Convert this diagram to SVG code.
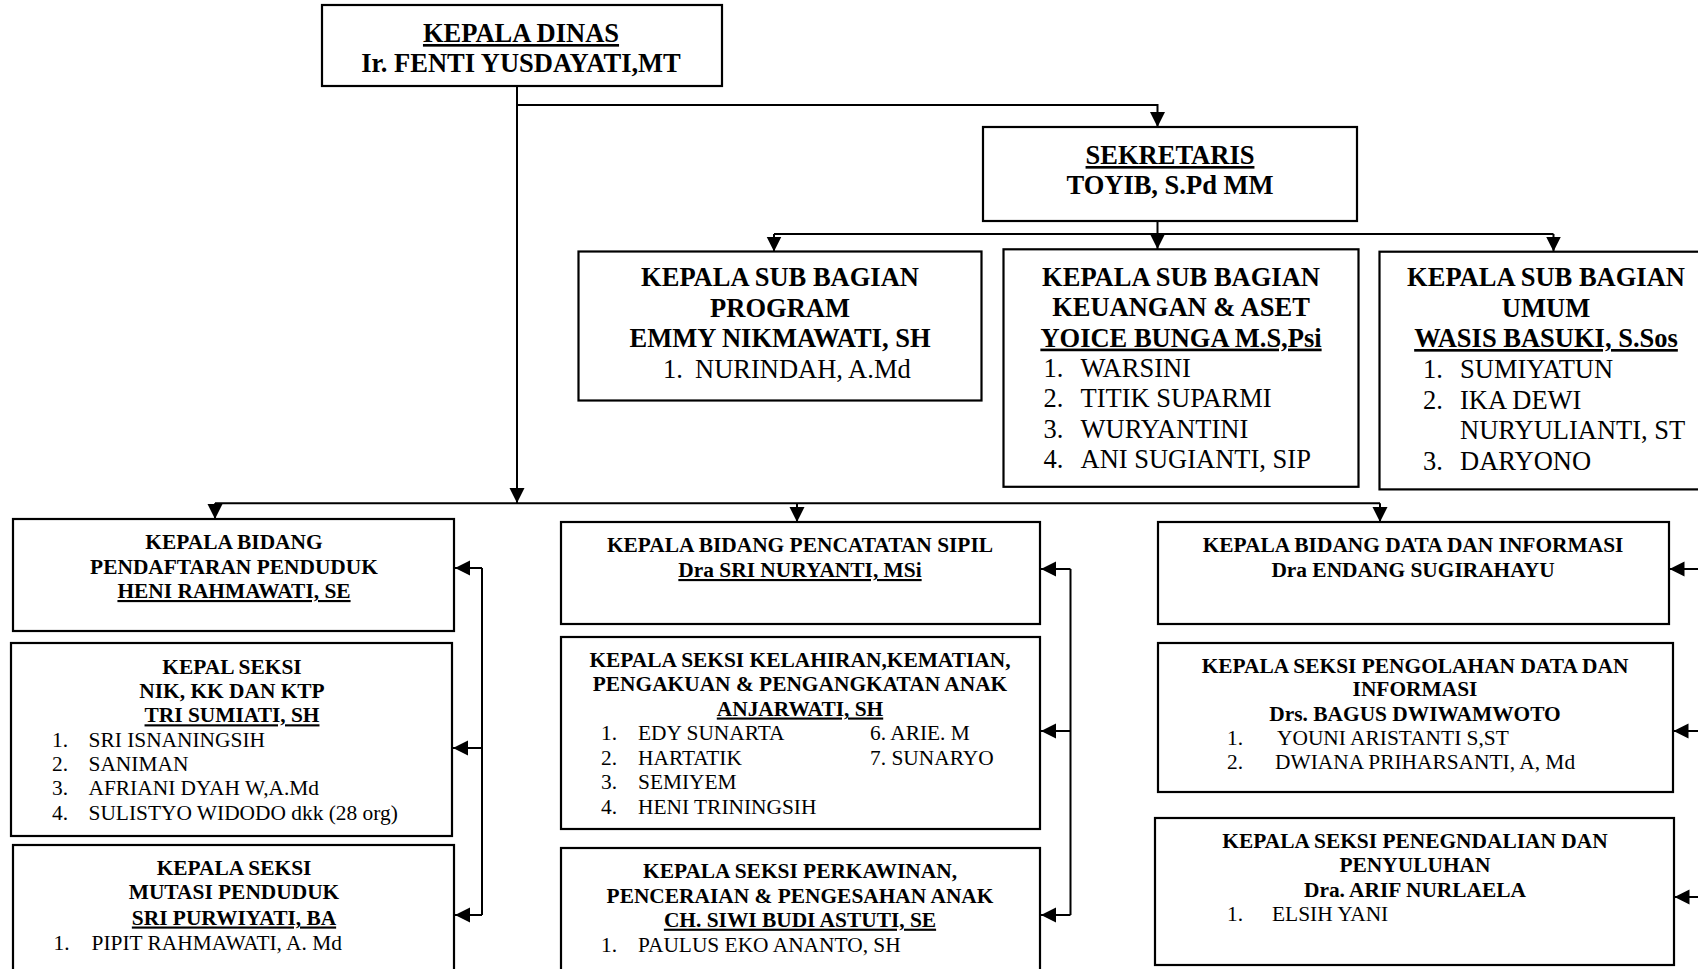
<svg xmlns="http://www.w3.org/2000/svg" width="1698" height="969" viewBox="0 0 1698 969">
<style>
text{font-family:"Liberation Serif","Times New Roman",serif;fill:#000}
.t1{font-size:26.5px}
.t2{font-size:21.4px}
.b{font-weight:bold}
.c{text-anchor:middle}
.u{text-decoration:underline}
rect{fill:#fff;stroke:#000;stroke-width:2.2}
.ln{fill:none;stroke:#000;stroke-width:2}
</style>
<defs>
<marker id="ah" markerUnits="userSpaceOnUse" markerWidth="16" markerHeight="16" refX="15" refY="7.5" orient="auto">
<path d="M0,0 L15,7.5 L0,15 Z" fill="#000"/>
</marker>
</defs>
<rect x="0" y="0" width="1698" height="969" style="stroke:none;fill:#fff"/>

<g id="connectors">
<path class="ln" d="M517,86 V503"/>
<path class="ln" d="M517,488 V503" marker-end="url(#ah)"/>
<path class="ln" d="M517,105 H1157.5 V127" marker-end="url(#ah)"/>
<path class="ln" d="M1157.5,221 V249" marker-end="url(#ah)"/>
<path class="ln" d="M774,234 H1553.5"/>
<path class="ln" d="M774,234 V251.5" marker-end="url(#ah)"/>
<path class="ln" d="M1553.5,234 V251.5" marker-end="url(#ah)"/>
<path class="ln" d="M215,503.3 H1380"/>
<path class="ln" d="M215,503.3 V519" marker-end="url(#ah)"/>
<path class="ln" d="M797,503.3 V522" marker-end="url(#ah)"/>
<path class="ln" d="M1380,503.3 V522" marker-end="url(#ah)"/>
<path class="ln" d="M482,568 V915"/>
<path class="ln" d="M482,568 H455" marker-end="url(#ah)"/>
<path class="ln" d="M482,748 H453" marker-end="url(#ah)"/>
<path class="ln" d="M482,915 H455" marker-end="url(#ah)"/>
<path class="ln" d="M1070.5,569 V915"/>
<path class="ln" d="M1070.5,569 H1041" marker-end="url(#ah)"/>
<path class="ln" d="M1070.5,731 H1041" marker-end="url(#ah)"/>
<path class="ln" d="M1070.5,915 H1041" marker-end="url(#ah)"/>
<path class="ln" d="M1700,569 H1669.5" marker-end="url(#ah)"/>
<path class="ln" d="M1700,731 H1673.5" marker-end="url(#ah)"/>
<path class="ln" d="M1700,897 H1674.5" marker-end="url(#ah)"/>
</g>

<g id="kepala-dinas">
<rect x="322" y="5" width="400" height="81"/>
<text class="t1 b c u" x="521" y="42">KEPALA DINAS</text>
<text class="t1 b c" x="521" y="72">Ir. FENTI YUSDAYATI,MT</text>
</g>

<g id="sekretaris">
<rect x="983" y="127" width="374" height="94"/>
<text class="t1 b c u" x="1170" y="164">SEKRETARIS</text>
<text class="t1 b c" x="1170" y="194">TOYIB, S.Pd MM</text>
</g>

<g id="subbag-program">
<rect x="578.5" y="251.5" width="403" height="149"/>
<text class="t1 b c" x="780" y="286">KEPALA SUB BAGIAN</text>
<text class="t1 b c" x="780" y="316.5">PROGRAM</text>
<text class="t1 b c" x="780" y="347">EMMY NIKMAWATI, SH</text>
<text class="t1" x="663" y="378">1.</text>
<text class="t1" x="695" y="378">NURINDAH, A.Md</text>
</g>

<g id="subbag-keuangan">
<rect x="1003.5" y="249.3" width="355" height="237.5"/>
<text class="t1 b c" x="1181" y="286">KEPALA SUB BAGIAN</text>
<text class="t1 b c" x="1181" y="316.3">KEUANGAN &amp; ASET</text>
<text class="t1 b c u" x="1181" y="346.6">YOICE BUNGA M.S,Psi</text>
<text class="t1" x="1043.5" y="377">1.</text>
<text class="t1" x="1080.5" y="377">WARSINI</text>
<text class="t1" x="1043.5" y="407.3">2.</text>
<text class="t1" x="1080.5" y="407.3">TITIK SUPARMI</text>
<text class="t1" x="1043.5" y="437.6">3.</text>
<text class="t1" x="1080.5" y="437.6">WURYANTINI</text>
<text class="t1" x="1043.5" y="468">4.</text>
<text class="t1" x="1080.5" y="468">ANI SUGIANTI, SIP</text>
</g>

<g id="subbag-umum">
<rect x="1379.5" y="251.7" width="330" height="237.7"/>
<text class="t1 b c" x="1546" y="286">KEPALA SUB BAGIAN</text>
<text class="t1 b c" x="1546" y="316.6">UMUM</text>
<text class="t1 b c u" x="1546" y="347">WASIS BASUKI, S.Sos</text>
<text class="t1" x="1423" y="378">1.</text>
<text class="t1" x="1460" y="378">SUMIYATUN</text>
<text class="t1" x="1423" y="408.5">2.</text>
<text class="t1" x="1460" y="408.5">IKA DEWI</text>
<text class="t1" x="1460" y="439">NURYULIANTI, ST</text>
<text class="t1" x="1423" y="469.5">3.</text>
<text class="t1" x="1460" y="469.5">DARYONO</text>
</g>

<g id="bidang-pendaftaran">
<rect x="13" y="519" width="441" height="112"/>
<text class="t2 b c" x="234" y="549">KEPALA BIDANG</text>
<text class="t2 b c" x="234" y="573.5">PENDAFTARAN PENDUDUK</text>
<text class="t2 b c u" x="234" y="598">HENI RAHMAWATI, SE</text>
</g>

<g id="seksi-nik">
<rect x="11" y="643" width="441" height="193"/>
<text class="t2 b c" x="232" y="674">KEPAL SEKSI</text>
<text class="t2 b c" x="232" y="698.3">NIK, KK DAN KTP</text>
<text class="t2 b c u" x="232" y="722.3">TRI SUMIATI, SH</text>
<text class="t2" x="52" y="746.7">1.</text>
<text class="t2" x="88.5" y="746.7">SRI ISNANINGSIH</text>
<text class="t2" x="52" y="771">2.</text>
<text class="t2" x="88.5" y="771">SANIMAN</text>
<text class="t2" x="52" y="795">3.</text>
<text class="t2" x="88.5" y="795">AFRIANI DYAH W,A.Md</text>
<text class="t2" x="52" y="820">4.</text>
<text class="t2" x="88.5" y="820">SULISTYO WIDODO dkk (28 org)</text>
</g>

<g id="seksi-mutasi">
<rect x="13" y="845" width="441" height="140"/>
<text class="t2 b c" x="234" y="875">KEPALA SEKSI</text>
<text class="t2 b c" x="234" y="899.3">MUTASI PENDUDUK</text>
<text class="t2 b c u" x="234" y="924.5">SRI PURWIYATI, BA</text>
<text class="t2" x="53.5" y="949.5">1.</text>
<text class="t2" x="91.5" y="949.5">PIPIT RAHMAWATI, A. Md</text>
</g>

<g id="bidang-capil">
<rect x="561" y="522" width="479" height="102"/>
<text class="t2 b c" x="800" y="551.7">KEPALA BIDANG PENCATATAN SIPIL</text>
<text class="t2 b c u" x="800" y="577">Dra SRI NURYANTI, MSi</text>
</g>

<g id="seksi-kelahiran">
<rect x="561" y="637" width="479" height="192"/>
<text class="t2 b c" x="800" y="666.7">KEPALA SEKSI KELAHIRAN,KEMATIAN,</text>
<text class="t2 b c" x="800" y="690.7">PENGAKUAN &amp; PENGANGKATAN ANAK</text>
<text class="t2 b c u" x="800" y="715.5">ANJARWATI, SH</text>
<text class="t2" x="601" y="740">1.</text>
<text class="t2" x="638" y="740">EDY SUNARTA</text>
<text class="t2" x="870" y="740">6. ARIE. M</text>
<text class="t2" x="601" y="764.5">2.</text>
<text class="t2" x="638" y="764.5">HARTATIK</text>
<text class="t2" x="870" y="764.5">7. SUNARYO</text>
<text class="t2" x="601" y="789">3.</text>
<text class="t2" x="638" y="789">SEMIYEM</text>
<text class="t2" x="601" y="813.5">4.</text>
<text class="t2" x="638" y="813.5">HENI TRININGSIH</text>
</g>

<g id="seksi-perkawinan">
<rect x="561" y="848" width="479" height="140"/>
<text class="t2 b c" x="800" y="878.3">KEPALA SEKSI PERKAWINAN,</text>
<text class="t2 b c" x="800" y="902.7">PENCERAIAN &amp; PENGESAHAN ANAK</text>
<text class="t2 b c u" x="800" y="926.7">CH. SIWI BUDI ASTUTI, SE</text>
<text class="t2" x="601" y="951.5">1.</text>
<text class="t2" x="638" y="951.5">PAULUS EKO ANANTO, SH</text>
</g>

<g id="bidang-data">
<rect x="1158" y="522" width="511" height="102"/>
<text class="t2 b c" x="1413" y="551.7">KEPALA BIDANG DATA DAN INFORMASI</text>
<text class="t2 b c" x="1413" y="577">Dra ENDANG SUGIRAHAYU</text>
</g>

<g id="seksi-pengolahan">
<rect x="1158" y="643" width="515" height="149"/>
<text class="t2 b c" x="1415" y="672.7">KEPALA SEKSI PENGOLAHAN DATA DAN</text>
<text class="t2 b c" x="1415" y="696">INFORMASI</text>
<text class="t2 b c" x="1415" y="720.7">Drs. BAGUS DWIWAMWOTO</text>
<text class="t2" x="1227" y="745">1.</text>
<text class="t2" x="1277" y="745">YOUNI ARISTANTI S,ST</text>
<text class="t2" x="1227" y="769.3">2.</text>
<text class="t2" x="1275" y="769.3">DWIANA PRIHARSANTI, A, Md</text>
</g>

<g id="seksi-pengendalian">
<rect x="1155" y="818" width="519" height="147"/>
<text class="t2 b c" x="1415" y="848.3">KEPALA SEKSI PENEGNDALIAN DAN</text>
<text class="t2 b c" x="1415" y="871.7">PENYULUHAN</text>
<text class="t2 b c" x="1415" y="896.7">Dra. ARIF NURLAELA</text>
<text class="t2" x="1227" y="920.7">1.</text>
<text class="t2" x="1272" y="920.7">ELSIH YANI</text>
</g>
</svg>
